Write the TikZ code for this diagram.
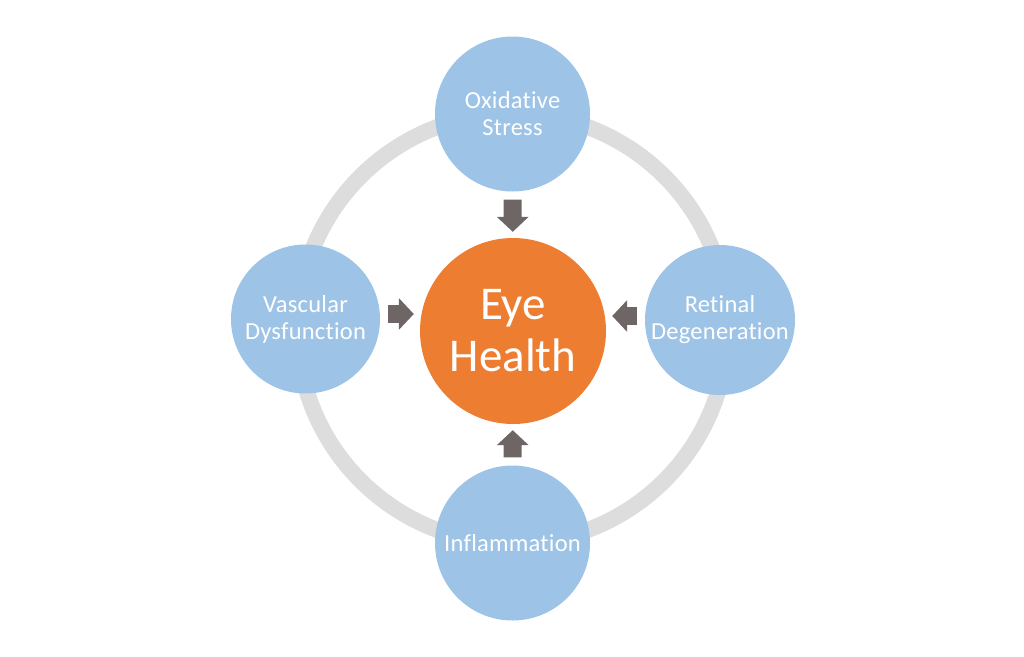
\documentclass[tikz,border=0pt]{standalone}
\usepackage{fontspec}
\setmainfont{Carlito}[Ligatures=NoCommon]
\newfontfamily\factorfont{Carlito}[Ligatures=NoCommon,LetterSpace=1]
\usetikzlibrary{arrows.meta}
\definecolor{ringgray}{HTML}{DEDDDD}
\definecolor{factorblue}{HTML}{9DC3E6}
\definecolor{eyeorange}{HTML}{ED7D31}
\definecolor{arrowgray}{HTML}{6E6664}
\begin{document}
\begin{tikzpicture}[x=1pt,y=-1pt,
	factor/.style={circle,fill=factorblue,text=white,minimum size=152pt,inner sep=0pt,align=center,font=\factorfont\fontsize{24.5}{27}\selectfont},
	push/.style={arrowgray,line width=18pt,-{Triangle[width=31pt,length=15pt]},shorten <=8pt,shorten >=6pt}]
	\useasboundingbox (0,0) rectangle (1024,656);
	\draw[ringgray,line width=16pt] (512.5,328.5) circle (215);
	\node[circle,fill=eyeorange,text=white,minimum size=186pt,align=center,font=\fontsize{47}{52}\selectfont](eye) at (513,331) {Eye\\Health};
	\node[factor,minimum size=155pt](oxid) at (512.5,114) {Oxidative\\Stress};
	\node[factor,minimum size=149pt](vasc) at (305.5,319) {Vascular\\Dysfunction};
	\node[factor,minimum size=150pt](retin) at (720,320) {Retinal\\Degeneration};
	\node[factor,minimum size=155pt](infl) at (512.5,543) {Inflammation};
	\draw[push] (oxid) -- (eye);
	\draw[push] (infl) -- (eye);
	\draw[push] ([yshift=5pt]vasc.east) -- ([yshift=5pt]vasc.east -| eye.west);
	\draw[push] ([yshift=4pt]retin.west) -- ([yshift=4pt]retin.west -| eye.east);
\end{tikzpicture}
\end{document}
